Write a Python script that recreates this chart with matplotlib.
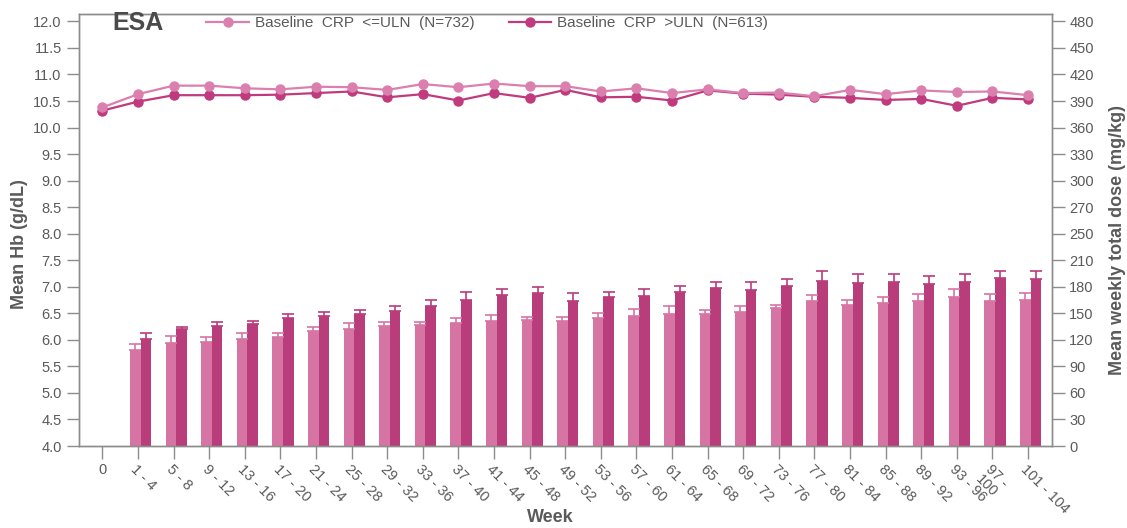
import matplotlib
matplotlib.use("Agg")
import matplotlib.pyplot as mp
import numpy as np

# week categories (x axis)
weeks = ["0", "1 - 4", "5 - 8", "9 - 12", "13 - 16", "17 - 20", "21 - 24", "25 - 28",
         "29 - 32", "33 - 36", "37 - 40", "41 - 44", "45 - 48", "49 - 52", "53 - 56",
         "57 - 60", "61 - 64", "65 - 68", "69 - 72", "73 - 76", "77 - 80", "81 - 84",
         "85 - 88", "89 - 92", "93 - 96", "97 -\n100", "101 - 104"]

# mean Hb (g/dL), one value per week category
hb_low = [10.38, 10.63, 10.79, 10.79, 10.74, 10.72, 10.77, 10.76, 10.71, 10.82, 10.76,
          10.83, 10.78, 10.78, 10.68, 10.74, 10.65, 10.72, 10.65, 10.66, 10.59, 10.71,
          10.63, 10.70, 10.67, 10.68, 10.61]
hb_high = [10.32, 10.49, 10.61, 10.61, 10.61, 10.62, 10.65, 10.68, 10.57, 10.63, 10.51,
           10.65, 10.56, 10.71, 10.57, 10.58, 10.51, 10.70, 10.64, 10.62, 10.58, 10.56,
           10.52, 10.54, 10.41, 10.56, 10.53]

# mean weekly total dose (mg/kg), from week 1-4 onwards
dose_low = [108.7, 116.5, 117.6, 120.6, 123.3, 130.0, 131.9, 135.6, 136.4, 139.0, 141.3,
            142.4, 141.3, 144.2, 146.5, 149.5, 148.7, 151.4, 155.9, 164.1, 158.9, 162.2,
            164.1, 167.9, 163.4, 164.9]
dose_high = [120.6, 131.9, 135.6, 137.5, 144.2, 146.5, 148.7, 152.9, 158.5, 165.2, 170.8,
             173.1, 164.1, 168.2, 169.3, 174.6, 178.7, 176.8, 181.0, 186.6, 184.3, 185.5,
             183.2, 185.5, 190.0, 188.8]
err_low = [7.0, 7.5, 5.6, 6.7, 5.0, 5.0, 6.7, 5.0, 4.0, 6.0, 6.4, 4.0, 4.5, 5.6, 7.9,
           9.0, 5.2, 7.0, 4.0, 6.7, 6.0, 6.7, 8.0, 10.0, 8.6, 8.2]
err_high = [6.7, 3.0, 4.9, 4.0, 4.5, 5.0, 5.0, 5.6, 6.4, 9.0, 6.7, 6.7, 8.6, 6.0, 8.2,
            6.4, 6.7, 8.6, 7.9, 11.6, 10.0, 9.0, 9.0, 9.0, 7.5, 8.6]

hb_ticks = np.arange(4.0, 12.01, 0.5)
dose_ticks = np.arange(0, 481, 30)
dose_labels = ["0", "30", "60", "90", "120", "150", "180", "210", "250", "270", "300",
               "330", "360", "390", "420", "450", "480"]

labels = ["Baseline  CRP  <=ULN  (N=732)", "Baseline  CRP  >ULN  (N=613)"]

LIGHT = "#D675A3"
DARK = "#B93C7B"
LINE_LIGHT = "#DB80AE"
LINE_DARK = "#C03A7E"
GREY = "#8C8C8C"
TEXT = "#5A5A5A"

mp.rcParams["font.family"] = ["Liberation Sans", "DejaVu Sans"]


def main():
    fig = mp.figure(figsize=(11.27, 5.28), dpi=100)
    ax = fig.add_axes([0.0701, 0.1553, 0.8633, 0.8182])
    ax2 = ax.twinx()
    plot_data(ax, ax2)
    set_properties(fig, ax, ax2)
    fig.savefig("out.png", dpi=100)


def plot_data(ax, ax2):
    x = np.arange(len(weeks))
    xb = x[1:]
    w = 0.3
    ax2.bar(xb - 0.08, dose_low, w, color=LIGHT, zorder=2)
    ax2.bar(xb + 0.22, dose_high, w, color=DARK, zorder=2)
    ax2.errorbar(xb - 0.08, dose_low, yerr=[np.zeros(len(err_low)), err_low], fmt="none",
                 ecolor=LIGHT, elinewidth=1.2, capsize=4, capthick=1.2, zorder=3)
    ax2.errorbar(xb + 0.22, dose_high, yerr=[np.zeros(len(err_high)), err_high], fmt="none",
                 ecolor=DARK, elinewidth=1.2, capsize=4, capthick=1.2, zorder=3)

    ax.plot(x, hb_low, "-o", color=LINE_LIGHT, lw=1.6, ms=6.5, label=labels[0], zorder=5)
    ax.plot(x, hb_high, "-o", color=LINE_DARK, lw=1.6, ms=6.5, label=labels[1], zorder=4)
    ax.set_zorder(ax2.get_zorder() + 1)
    ax.patch.set_visible(False)


def set_properties(fig, ax, ax2):
    ax.set_xlim(-0.66, 26.67)
    ax.set_ylim(4.0, 12.14)
    ax2.set_ylim(0, (12.14 - 4.0) * 60)

    ax.set_yticks(hb_ticks)
    ax.set_yticklabels([f"{v:.1f}" for v in hb_ticks])
    ax2.set_yticks(dose_ticks)
    ax2.set_yticklabels(dose_labels)

    ax.set_xticks(np.arange(len(weeks)))
    ax.set_xticklabels(weeks, linespacing=1.0)
    for i, t in enumerate(ax.get_xticklabels()):
        if i == 0:
            t.set_rotation(0)
            t.set_ha("center")
        else:
            t.set_rotation(-45)
            t.set_rotation_mode("anchor")
            t.set_ha("left")
            t.set_va("top")

    for a in (ax, ax2):
        for s in a.spines.values():
            s.set_color(GREY)
            s.set_linewidth(1.0)
        a.tick_params(colors=GREY, labelcolor=TEXT, labelsize=10.5, length=9, width=1)
    ax.tick_params(axis="x", pad=3)

    ax.set_ylabel("Mean Hb (g/dL)", fontsize=13, fontweight="bold", color=TEXT)
    ax.yaxis.set_label_coords(-0.052, 0.468)
    ax2.set_ylabel("Mean weekly total dose (mg/kg)", fontsize=13, fontweight="bold",
                   color=TEXT)
    ax2.yaxis.set_label_coords(1.0586, 0.477)
    fig.text(550 / 1127, 1 - 518 / 528, "Week", fontsize=13, fontweight="bold",
             color=TEXT, ha="center", va="center")

    fig.text(112 / 1127, 1 - 23 / 528, "ESA", fontsize=18, fontweight="bold",
             color="#4A4A4A", ha="left", va="center")
    leg = ax.legend(loc="center left", bbox_to_anchor=(0.131, 0.978), ncol=2,
                    frameon=False, fontsize=11, handlelength=2.8, handletextpad=0.4,
                    columnspacing=2.2, borderpad=0, borderaxespad=0)
    for t in leg.get_texts():
        t.set_color(TEXT)


if __name__ == "__main__":
    main()
